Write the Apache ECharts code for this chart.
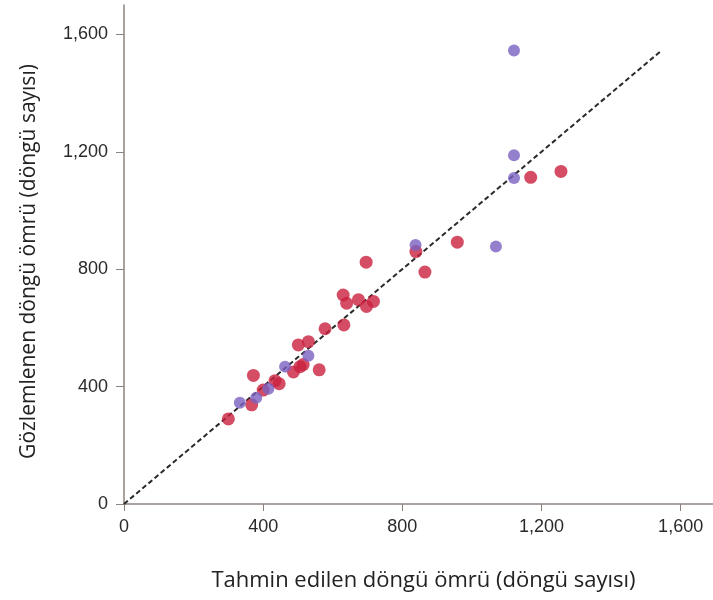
<!DOCTYPE html>
<html>
<head>
<meta charset="utf-8">
<script src="https://cdn.jsdelivr.net/npm/echarts@6/dist/echarts.min.js"></script>
<style>
  html, body { margin: 0; padding: 0; background: #fff; }
  #chart { width: 713px; height: 600px; }
</style>
</head>
<body>
<div id="chart"></div>
<script>
// tahmin edilen / gözlemlenen ömür verileri
var redPoints = [
	[300, 290], [367, 338], [372, 438], [400, 388], [434, 420], [446, 410],
	[487, 450], [506, 468], [515, 475], [501, 542], [530, 553], [561, 457],
	[578, 597], [630, 712], [640, 684], [632, 610], [674, 696], [697, 673],
	[717, 690], [696, 824], [839, 860], [865, 790], [958, 892], [1169, 1113],
	[1256, 1133]
];
var purplePoints = [
	[333, 345], [380, 362], [415, 393], [463, 468], [530, 505], [838, 882],
	[1069, 877], [1121, 1111], [1121, 1188], [1121, 1545]
];
var diagonal = [[0, 0], [1545, 1545]];

var axisColor = '#8c827d';

function fmt(v) {
	return Number(v).toLocaleString('en-US');
}

var myChart = echarts.init(document.getElementById('chart'));
var option = {
	animation: false,
	grid: {
		left: 124,
		right: 0,
		top: 5,
		bottom: 96
	},
	xAxis: {
		type: 'value',
		min: 0,
		max: 1693,
		interval: 400,
		name: 'Tahmin edilen döngü ömrü (döngü sayısı)',
		nameLocation: 'middle',
		nameGap: 66,
		nameTextStyle: { fontFamily: 'Open Sans', fontSize: 22, color: '#222', padding: [0, 0, 0, 10] },
		axisLine: { lineStyle: { color: axisColor, width: 1.5 } },
		axisTick: { length: 7, lineStyle: { color: axisColor } },
		axisLabel: {
			showMaxLabel: false,
			margin: 14,
			fontFamily: 'Liberation Sans',
			fontSize: 18,
			color: '#2a2a2a',
			formatter: fmt
		},
		splitLine: { show: false }
	},
	yAxis: {
		type: 'value',
		min: 0,
		max: 1700,
		interval: 400,
		name: 'Gözlemlenen döngü ömrü (döngü sayısı)',
		nameLocation: 'middle',
		nameGap: 84,
		nameTextStyle: { fontFamily: 'Open Sans', fontSize: 21, color: '#222', padding: [0, 14, 0, 0] },
		axisLine: { lineStyle: { color: axisColor, width: 1.5 } },
		axisTick: { length: 8, lineStyle: { color: axisColor } },
		axisLabel: {
			showMaxLabel: false,
			margin: 16,
			fontFamily: 'Liberation Sans',
			fontSize: 18,
			color: '#2a2a2a',
			formatter: fmt
		},
		splitLine: { show: false }
	},
	series: [
		{
			type: 'line',
			data: diagonal,
			symbol: 'none',
			lineStyle: { color: '#2a2a2a', width: 2, type: [5, 3] },
			z: 1
		},
		{
			type: 'scatter',
			data: redPoints,
			symbolSize: 13,
			itemStyle: { color: '#c9203f' },
			z: 2
		},
		{
			type: 'scatter',
			data: purplePoints,
			symbolSize: 12,
			itemStyle: { color: '#7a60c2' },
			z: 3
		}
	]
};
myChart.setOption(option);
</script>
</body>
</html>
